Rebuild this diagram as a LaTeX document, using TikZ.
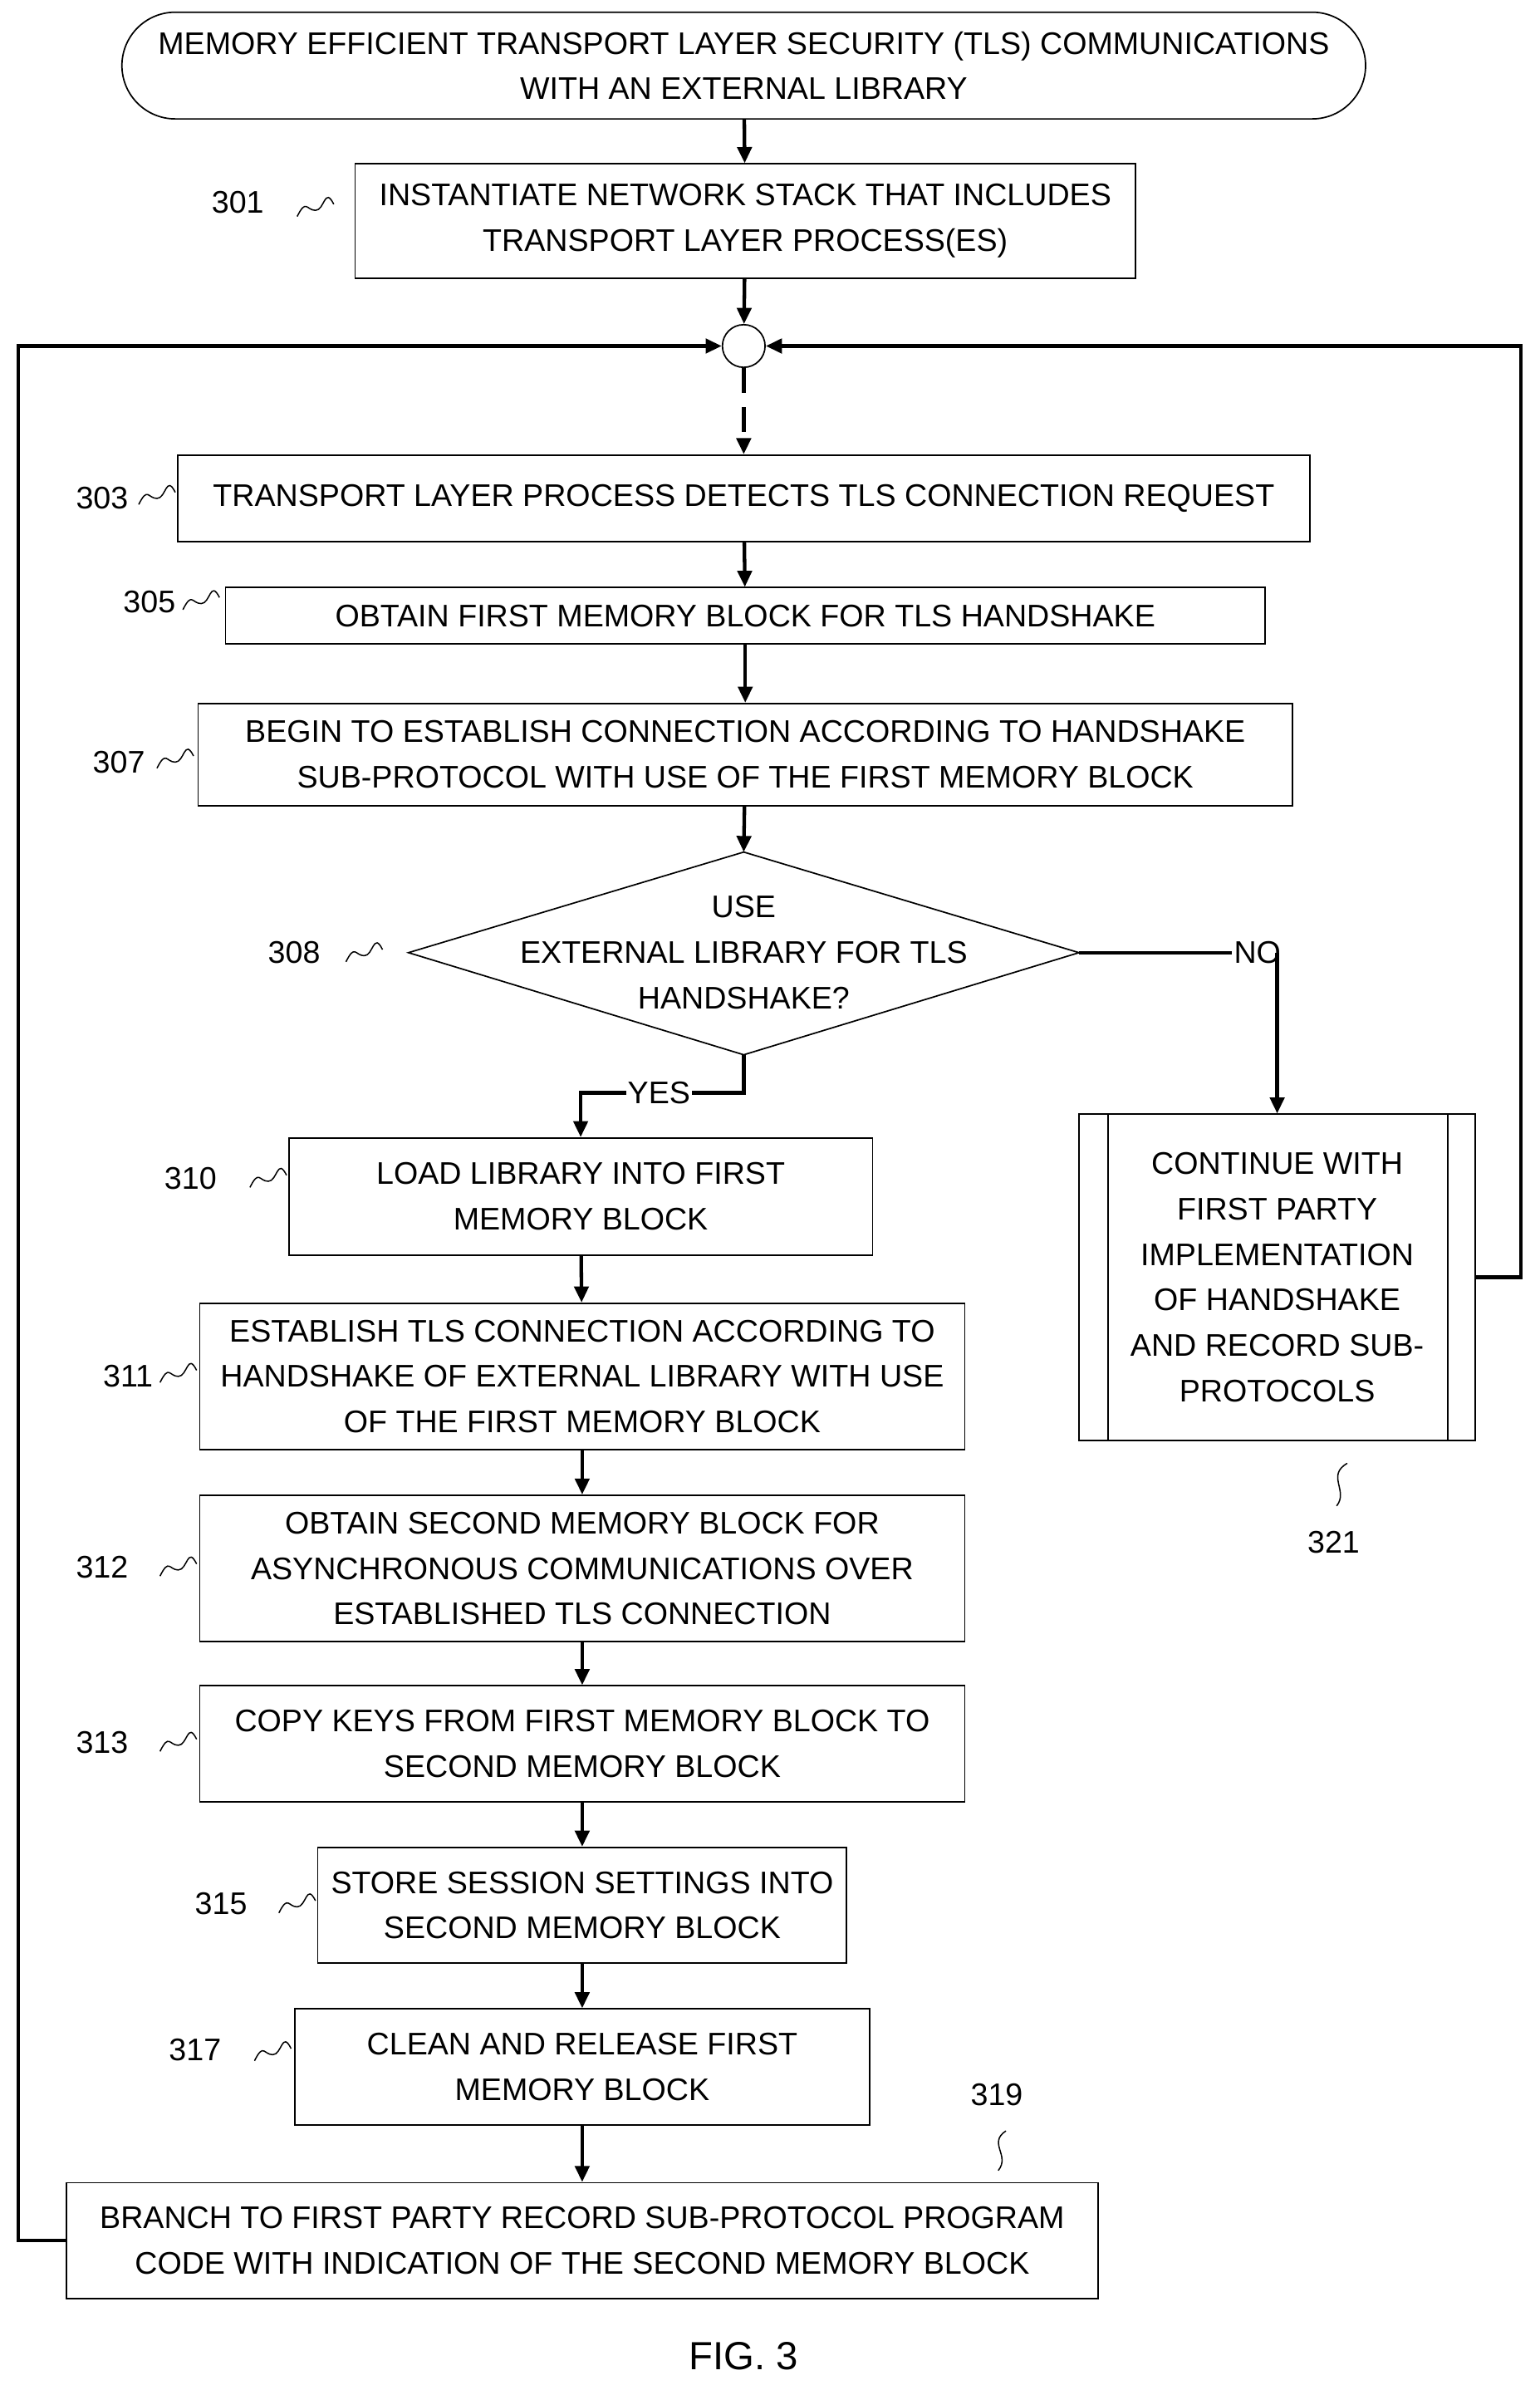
\documentclass[tikz,border=0pt]{standalone}
\usepackage{fontspec}
\setmainfont{Liberation Sans}
\usetikzlibrary{shapes.geometric,arrows.meta}
\tikzset{
  box/.style={draw, line width=0.8pt, rectangle, align=center, inner sep=0pt},
  flow/.style={line width=2pt, -{Triangle[length=9pt,width=8pt]}},
  squig/.style={line width=0.7pt}
}
\newcommand{\refsquig}[1]{\draw[squig] (#1) ++(-12,4) .. controls ++(6,-12) and ++(-6,0) .. ++(12,-4) .. controls ++(6,0) and ++(-6,-12) .. ++(12,-4);}
\begin{document}
\begin{tikzpicture}[x=0.03cm,y=-0.03cm,font=\fontsize{17.5}{25.5}\selectfont]
\useasboundingbox (0,0) rectangle (1010,1568);
% boxes
\node[box, rounded corners=35*0.03cm, minimum width=816*0.03cm, minimum height=70*0.03cm] (title) at (488,43) {MEMORY EFFICIENT TRANSPORT LAYER SECURITY (TLS) COMMUNICATIONS\\WITH AN EXTERNAL LIBRARY};
\node[box, minimum width=512*0.03cm, minimum height=75*0.03cm] (s301) at (489,145) {INSTANTIATE NETWORK STACK THAT INCLUDES\\TRANSPORT LAYER PROCESS(ES)};
\node[draw, circle, line width=0.8pt, minimum size=28*0.03cm, inner sep=0pt] (join) at (488,227) {};
\node[box, minimum width=743*0.03cm, minimum height=57*0.03cm] (s303) at (488,327) {TRANSPORT LAYER PROCESS DETECTS TLS CONNECTION REQUEST};
\node[box, minimum width=682*0.03cm, minimum height=37*0.03cm] (s305) at (489,404) {OBTAIN FIRST MEMORY BLOCK FOR TLS HANDSHAKE};
\node[box, minimum width=718*0.03cm, minimum height=67*0.03cm] (s307) at (489,495) {BEGIN TO ESTABLISH CONNECTION ACCORDING TO HANDSHAKE\\SUB-PROTOCOL WITH USE OF THE FIRST MEMORY BLOCK};
\draw[line width=0.8pt] (268,625) coordinate (dl) -- (488,559) coordinate (dt) -- (708,625) coordinate (dr) -- (488,692) coordinate (db) -- cycle;
\node[align=center] (s308) at (488,625) {USE\\EXTERNAL LIBRARY FOR TLS\\HANDSHAKE?};
\node[box, minimum width=260*0.03cm, minimum height=214*0.03cm] (s321) at (838,838) {CONTINUE WITH\\FIRST PARTY\\IMPLEMENTATION\\OF HANDSHAKE\\AND RECORD SUB-\\PROTOCOLS};
\draw[line width=0.8pt] (727,731) -- (727,945) (950,731) -- (950,945);
\node[box, minimum width=383*0.03cm, minimum height=77*0.03cm] (s310) at (381,785) {LOAD LIBRARY INTO FIRST\\MEMORY BLOCK};
\node[box, minimum width=502*0.03cm, minimum height=96*0.03cm] (s311) at (382,903) {ESTABLISH TLS CONNECTION ACCORDING TO\\HANDSHAKE OF EXTERNAL LIBRARY WITH USE\\OF THE FIRST MEMORY BLOCK};
\node[box, minimum width=502*0.03cm, minimum height=96*0.03cm] (s312) at (382,1029) {OBTAIN SECOND MEMORY BLOCK FOR\\ASYNCHRONOUS COMMUNICATIONS OVER\\ESTABLISHED TLS CONNECTION};
\node[box, minimum width=502*0.03cm, minimum height=76*0.03cm] (s313) at (382,1144) {COPY KEYS FROM FIRST MEMORY BLOCK TO\\SECOND MEMORY BLOCK};
\node[box, minimum width=347*0.03cm, minimum height=76*0.03cm] (s315) at (382,1250) {STORE SESSION SETTINGS INTO\\SECOND MEMORY BLOCK};
\node[box, minimum width=377*0.03cm, minimum height=76*0.03cm] (s317) at (382,1356) {CLEAN AND RELEASE FIRST\\MEMORY BLOCK};
\node[box, minimum width=677*0.03cm, minimum height=76*0.03cm] (s319) at (382,1470) {BRANCH TO FIRST PARTY RECORD SUB-PROTOCOL PROGRAM\\CODE WITH INDICATION OF THE SECOND MEMORY BLOCK};
% connectors
\draw[flow] (title) -- (s301);
\draw[flow] (s301) -- (join);
\draw[flow, dash pattern=on 14pt off 8pt] (join) -- (s303);
\draw[flow] (s303) -- (s305);
\draw[flow] (s305) -- (s307);
\draw[flow] (s307) -- (dt);
\draw[line width=2pt] (dr) -- (838,625) node[pos=0.9, fill=white, inner sep=1pt] (no) {NO};
\draw[flow] (838,625) -- (s321);
\draw[flow] (db) -- (488,717) -- (381,717) node[pos=0.52, fill=white, inner sep=1pt] (yes) {YES} -- (s310);
\foreach \a/\b in {s310/s311, s311/s312, s312/s313, s313/s315, s315/s317, s317/s319}
  \draw[flow] (\a) -- (\b);
\draw[flow] (s321.east) -- (998,838) |- (join.east);
\draw[flow] (s319.west) -- (12,1470) |- (join.west);
% reference labels
\foreach \n/\x/\y/\sx/\sy in {301/156/133/207/138, 303/67/327/103/327, 305/98/395/132/396, 307/78/500/115/500,
  308/193/625/239/627, 310/125/773/176/775, 311/84/903/117/903, 312/67/1028/117/1030, 313/67/1143/117/1145,
  315/145/1249/195/1251, 317/128/1345/179/1348}
{
  \node (l\n) at (\x,\y) {\n};
  \refsquig{\sx,\sy}
}
\node (l321) at (875,1012) {321};
\draw[squig] (884,960) .. controls (870,968) and (885,978) .. (877,988);
\node (l319) at (654,1374) {319};
\draw[squig] (660,1398) .. controls (648,1406) and (663,1414) .. (655,1424);
\node (fig) at (488,1546) {\fontsize{22}{26}\selectfont FIG. 3};
\end{tikzpicture}
\end{document}
